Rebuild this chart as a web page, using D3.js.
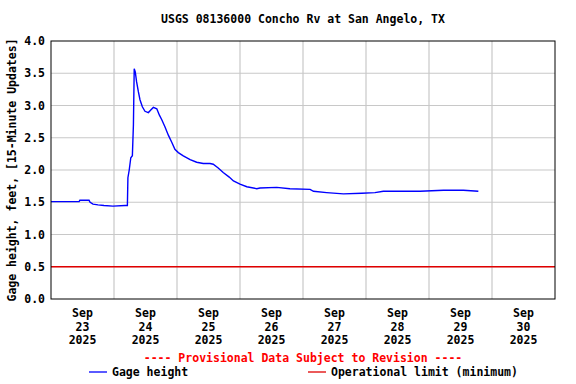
<html>
<head>
  <script src="https://d3js.org/d3.v7.min.js"></script>
  <style>
    body { margin: 0; background: #fff; }
    text { font-family: "DejaVu Sans Mono", monospace; font-weight: bold; font-size: 11.5px; }
    .grid line { stroke: #c8c8c8; stroke-width: 1.2; }
  </style>
</head>
<body>
<svg id="chart" width="576" height="384"></svg>
<script>
  // gage readings, hours after 2025-09-23 00:00
  const hours = [0, 10.7, 11, 14.5, 14.9, 16, 17.9, 20.2, 23.6, 28.2, 29.1, 29.3, 29.8, 30.4, 31, 31.4, 31.7,
    32.1, 32.6, 33.3, 33.9, 34.8, 35.8, 37.1, 38, 39, 40.3, 41.3, 42.2, 43.4, 44.7, 46, 47.2, 48.5, 50.4,
    53, 55.5, 58, 60.6, 61.8, 63.7, 65.6, 67.9, 69.5, 72, 74.6, 78.4, 79.6, 86, 91, 98.7, 100, 105, 111.4,
    118.4, 123.4, 126.6, 140.6, 149.5, 157.1, 162.8];
  const gage = [1.51, 1.51, 1.53, 1.53, 1.50, 1.47, 1.46, 1.45, 1.44, 1.45, 1.45, 1.88, 2.0, 2.19, 2.22, 2.7, 3.57,
    3.52, 3.37, 3.21, 3.09, 2.98, 2.91, 2.89, 2.93, 2.97, 2.95, 2.85, 2.78, 2.67, 2.54, 2.43, 2.32, 2.27, 2.22,
    2.16, 2.12, 2.10, 2.10, 2.09, 2.03, 1.96, 1.89, 1.83, 1.78, 1.74, 1.71, 1.72, 1.73, 1.71, 1.70, 1.67, 1.65, 1.63,
    1.64, 1.65, 1.67, 1.67, 1.685, 1.685, 1.67];
  const opLimit = 0.5;
  const yTicks = [0, 0.5, 1, 1.5, 2, 2.5, 3, 3.5, 4];
  const days = ["23", "24", "25", "26", "27", "28", "29", "30"];

  const svg = d3.select("#chart");
  const margin = { top: 41, right: 21, bottom: 85, left: 51 };
  const w = 576 - margin.left - margin.right;
  const h = 384 - margin.top - margin.bottom;

  const start = new Date(2025, 8, 23);
  const end = new Date(2025, 9, 1);
  const x = d3.scaleTime().domain([start, end]).range([0, w]);
  const y = d3.scaleLinear().domain([0, 4]).range([h, 0]);

  const g = svg.append("g").attr("transform", "translate(" + margin.left + "," + margin.top + ")");

  // gridlines
  g.append("g").attr("class", "grid")
    .selectAll("line").data(yTicks.slice(1, -1)).join("line")
    .attr("x1", 0).attr("x2", w).attr("y1", d => y(d)).attr("y2", d => y(d));
  g.append("g").attr("class", "grid")
    .selectAll("line").data(d3.timeDay.range(d3.timeDay.offset(start, 1), end)).join("line")
    .attr("y1", 0).attr("y2", h).attr("x1", d => x(d)).attr("x2", d => x(d));

  // y labels
  g.append("g").selectAll("text").data(yTicks).join("text")
    .attr("x", -6).attr("y", d => y(d) + 4)
    .attr("text-anchor", "end")
    .text(d => d3.format(".1f")(d));

  // x labels at noon, three rows
  const rows = [d => "Sep", d => d, d => "2025"];
  rows.forEach((fn, r) => {
    g.append("g").selectAll("text").data(days).join("text")
      .attr("text-anchor", "middle")
      .attr("x", d => x(new Date(2025, 8, +d, 12)))
      .attr("y", h + 18 + r * 13.5)
      .text(fn);
  });

  // operational limit
  g.append("line")
    .attr("x1", 0).attr("x2", w).attr("y1", y(opLimit)).attr("y2", y(opLimit))
    .attr("stroke", "#e00000").attr("stroke-width", 1.3);

  // gage height line
  const pts = hours.map((hr, i) => [new Date(start.getTime() + hr * 3600000), gage[i]]);
  g.append("path").datum(pts)
    .attr("fill", "none").attr("stroke", "#0000ff").attr("stroke-width", 1.4)
    .attr("d", d3.line().x(d => x(d[0])).y(d => y(d[1])));

  // frame
  g.append("rect").attr("width", w).attr("height", h)
    .attr("fill", "none").attr("stroke", "black").attr("stroke-width", 1);

  // titles
  svg.append("text").attr("x", margin.left + w / 2).attr("y", 23)
    .attr("text-anchor", "middle").text("USGS 08136000 Concho Rv at San Angelo, TX");
  svg.append("text")
    .attr("transform", "translate(16," + (margin.top + h / 2) + ") rotate(-90)")
    .attr("text-anchor", "middle").text("Gage height, feet, [15-Minute Updates]");
  svg.append("text").attr("x", margin.left + w / 2).attr("y", 362)
    .attr("text-anchor", "middle").attr("fill", "red")
    .text("---- Provisional Data Subject to Revision ----");

  // legend
  const legend = [
    { label: "Gage height", color: "#0000ff", x: 89 },
    { label: "Operational limit (minimum)", color: "#e00000", x: 308 }
  ];
  legend.forEach(d => {
    svg.append("line").attr("x1", d.x).attr("x2", d.x + 18).attr("y1", 372).attr("y2", 372)
      .attr("stroke", d.color).attr("stroke-width", 1.3);
    svg.append("text").attr("x", d.x + 23).attr("y", 376).text(d.label);
  });
</script>
</body>
</html>
